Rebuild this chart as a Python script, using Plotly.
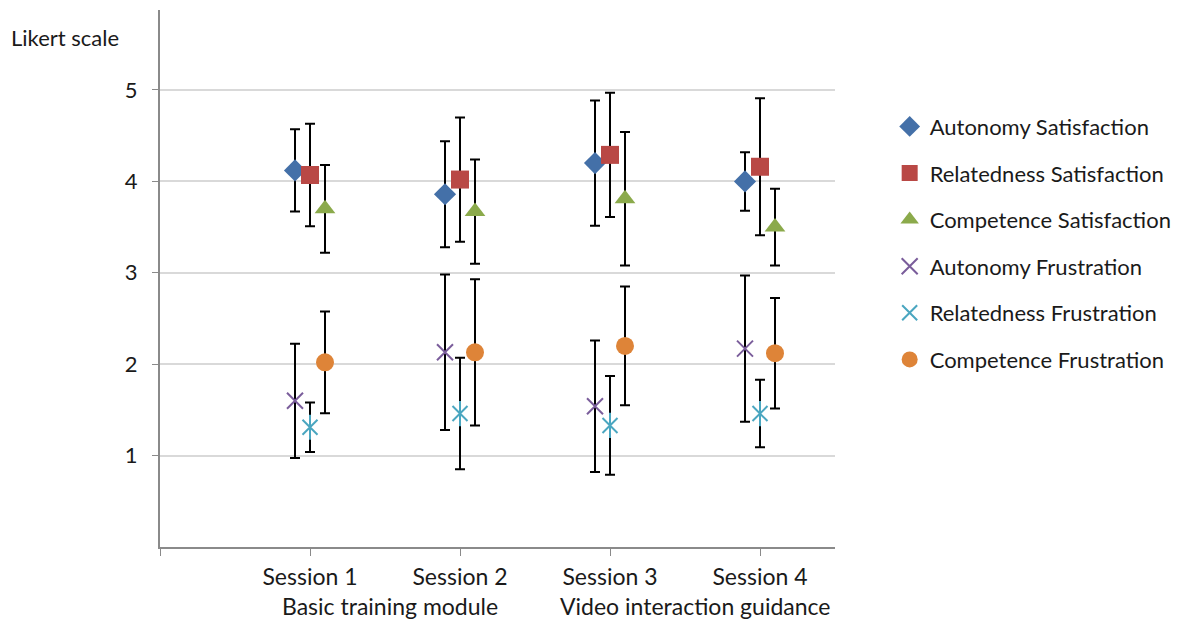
import plotly.graph_objects as go

sessions = [1, 2, 3, 4]
session_labels = ["Session 1", "Session 2", "Session 3", "Session 4"]
group_labels = ["Basic training module", "Video interaction guidance"]

aut_sat = [4.12, 3.86, 4.20, 4.00]
aut_sat_sd = [0.45, 0.58, 0.685, 0.32]
rel_sat = [4.07, 4.02, 4.29, 4.16]
rel_sat_sd = [0.56, 0.68, 0.68, 0.75]
com_sat = [3.70, 3.67, 3.81, 3.50]
com_sat_sd = [0.48, 0.57, 0.73, 0.42]
aut_fru = [1.60, 2.13, 1.54, 2.17]
aut_fru_sd = [0.625, 0.85, 0.72, 0.80]
rel_fru = [1.31, 1.46, 1.33, 1.46]
rel_fru_sd = [0.27, 0.61, 0.54, 0.37]
com_fru = [2.02, 2.13, 2.20, 2.12]
com_fru_sd = [0.556, 0.80, 0.65, 0.605]

FONT = "Lato"
TXT = "#1a1a1a"
fig = go.Figure()

def add(name, x_off, y, sd, symbol, color, size, lw=0, legend=True, group=None):
    fig.add_trace(go.Scatter(
        x=[s + x_off for s in sessions], y=y, mode="markers", name=name,
        showlegend=legend, legendgroup=group or name,
        marker=dict(symbol=symbol, color=color, size=size,
                    line=dict(color=color, width=lw)),
        error_y=dict(type="data", array=sd, visible=True, color="black",
                     thickness=2, width=5) if sd is not None else None,
    ))

add("Autonomy Satisfaction", -0.1, aut_sat, aut_sat_sd, "diamond", "#4470A8", 17)
add("Relatedness Satisfaction", 0.0, rel_sat, rel_sat_sd, "square", "#B94845", 18)
add("Competence Satisfaction", 0.1, com_sat, com_sat_sd, "triangle-up", "#8BAA4B", 18)
add("Autonomy Frustration", -0.1, aut_fru, aut_fru_sd, "x-thin-open", "#7A5D9B", 16, lw=2)
add("Relatedness Frustration", 0.0, rel_fru, rel_fru_sd, "x-thin-open", "#4AA6C0", 15, lw=2)
add("Relatedness Frustration", 0.0, rel_fru, None, "line-ns-open", "#4AA6C0", 18, lw=2,
    legend=False, group="Relatedness Frustration")
add("Competence Frustration", 0.1, com_fru, com_fru_sd, "circle", "#DE8438", 18)

W, H = 1174, 618
L, R, T, B = 152, 347, 2, 79
fig.update_layout(
    width=W, height=H,
    margin=dict(l=L, r=R, t=T, b=B),
    plot_bgcolor="white", paper_bgcolor="white",
    font=dict(family=FONT, size=23, color=TXT),
    showlegend=True,
    legend=dict(x=1.081, y=0.822, xanchor="left", yanchor="top",
                font=dict(family=FONT, size=22, color=TXT),
                traceorder="grouped", tracegroupgap=15, itemwidth=30),
)
fig.update_yaxes(range=[0, 5.875], tickvals=[1, 2, 3, 4, 5],
                 showgrid=True, gridcolor="#d9d9d9", gridwidth=2,
                 showline=True, linecolor="#8a8a8a", linewidth=2,
                 ticks="outside", ticklen=6, tickcolor="#8a8a8a",
                 zeroline=False, tickfont=dict(size=22), ticklabelstandoff=10)
fig.update_xaxes(range=[0, 4.5], tickvals=[0, 1, 2, 3, 4],
                 ticktext=[""] + session_labels,
                 showgrid=False, showline=True, linecolor="#8a8a8a", linewidth=2,
                 ticks="outside", ticklen=7, tickcolor="#8a8a8a",
                 zeroline=False, tickfont=dict(size=23), ticklabelstandoff=1)

fig.add_annotation(x=1.5, y=0, xref="x", yref="paper", yanchor="top",
                   yshift=-43, xshift=5, text=group_labels[0], showarrow=False,
                   font=dict(size=23))
fig.add_annotation(x=3.5, y=0, xref="x", yref="paper", yanchor="top",
                   yshift=-43, xshift=10, text=group_labels[1], showarrow=False,
                   font=dict(size=23))
pw, ph = W - L - R, H - T - B
fig.add_annotation(xref="paper", yref="paper", x=(57 - L) / pw, y=(H - B - 30) / ph,
                   xanchor="center", yanchor="middle", text="Likert scale",
                   showarrow=False, font=dict(size=22))

fig.write_html("out.html")
